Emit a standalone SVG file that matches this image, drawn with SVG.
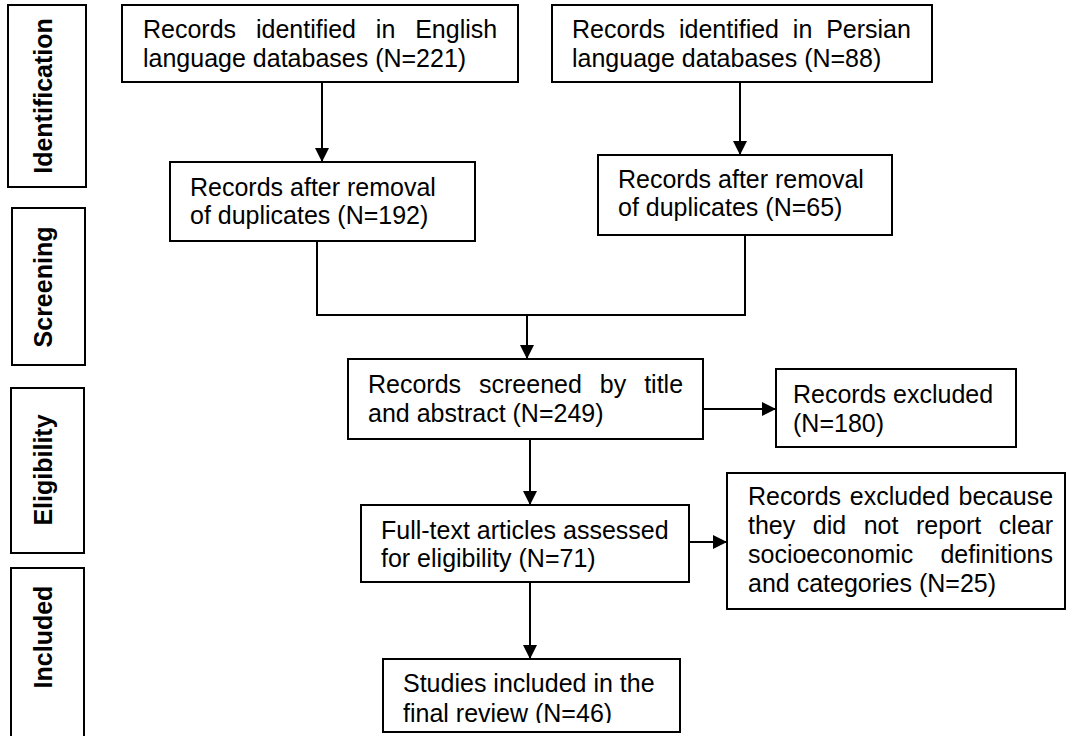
<svg xmlns="http://www.w3.org/2000/svg" width="1067" height="736" viewBox="0 0 1067 736">
<style>
.box{fill:#fff;stroke:#000;stroke-width:2}
.t{font-family:"Liberation Sans",Arial,sans-serif;font-size:25px;fill:#000}
.st{font-family:"Liberation Sans",Arial,sans-serif;font-size:25px;font-weight:bold;fill:#000;text-anchor:middle}
.c{fill:none;stroke:#000;stroke-width:2}
</style>
<defs>
<marker id="ah" markerUnits="userSpaceOnUse" viewBox="0 0 14 14" refX="14" refY="7" markerWidth="14" markerHeight="14" orient="auto">
<path d="M0,0 L14,7 L0,14 z" fill="#000"/>
</marker>
<clipPath id="clipStudies"><rect x="384" y="660" width="295" height="63"/></clipPath>
</defs>
<rect width="1067" height="736" fill="#fff"/>

<g id="stage-identification">
<rect class="box" x="8" y="5" width="78" height="182"/>
<text class="st" transform="translate(52,96) rotate(-90)">Identification</text>
</g>
<g id="stage-screening">
<rect class="box" x="12" y="208" width="73" height="157"/>
<text class="st" transform="translate(52,287) rotate(-90)">Screening</text>
</g>
<g id="stage-eligibility">
<rect class="box" x="11" y="388" width="73" height="165"/>
<text class="st" transform="translate(52,470) rotate(-90)">Eligibility</text>
</g>
<g id="stage-included">
<rect class="box" x="11" y="568" width="73" height="190"/>
<text class="st" transform="translate(52,637) rotate(-90)">Included</text>
</g>

<g id="connectors">
<path class="c" d="M322,82 V162" marker-end="url(#ah)"/>
<path class="c" d="M740,82 V155" marker-end="url(#ah)"/>
<path class="c" d="M317,241 V315 H745 V235"/>
<path class="c" d="M527,315 V359" marker-end="url(#ah)"/>
<path class="c" d="M703,409 H776" marker-end="url(#ah)"/>
<path class="c" d="M530,439 V505" marker-end="url(#ah)"/>
<path class="c" d="M689,542 H727" marker-end="url(#ah)"/>
<path class="c" d="M530,582 V659" marker-end="url(#ah)"/>
</g>

<g id="english">
<rect class="box" x="122" y="5" width="396" height="77"/>
<text class="t"><tspan x="143" y="38" word-spacing="12.9">Records identified in English</tspan><tspan x="143" y="67">language databases (N=221)</tspan></text>
</g>
<g id="persian">
<rect class="box" x="552" y="5" width="380" height="77"/>
<text class="t"><tspan x="572" y="38" word-spacing="6.9">Records identified in Persian</tspan><tspan x="572" y="67">language databases (N=88)</tspan></text>
</g>
<g id="english-dedup">
<rect class="box" x="170" y="162" width="305" height="79"/>
<text class="t"><tspan x="190" y="196">Records after removal</tspan><tspan x="190" y="224">of duplicates (N=192)</tspan></text>
</g>
<g id="persian-dedup">
<rect class="box" x="598" y="155" width="294" height="80"/>
<text class="t"><tspan x="618" y="188">Records after removal</tspan><tspan x="618" y="216">of duplicates (N=65)</tspan></text>
</g>
<g id="screened">
<rect class="box" x="348" y="359" width="355" height="80"/>
<text class="t"><tspan x="368" y="393" word-spacing="11">Records screened by title</tspan><tspan x="368" y="422">and abstract (N=249)</tspan></text>
</g>
<g id="excluded1">
<rect class="box" x="776" y="369" width="240" height="78"/>
<text class="t"><tspan x="793" y="403">Records excluded</tspan><tspan x="793" y="432">(N=180)</tspan></text>
</g>
<g id="fulltext">
<rect class="box" x="361" y="505" width="328" height="77"/>
<text class="t"><tspan x="381" y="539">Full-text articles assessed</tspan><tspan x="381" y="567">for eligibility (N=71)</tspan></text>
</g>
<g id="excluded2">
<rect class="box" x="727" y="473" width="338" height="136"/>
<text class="t"><tspan x="748" y="505" word-spacing="1.75">Records excluded because</tspan><tspan x="748" y="534" word-spacing="10.6">they did not report clear</tspan><tspan x="748" y="563" word-spacing="20.1">socioeconomic definitions</tspan><tspan x="748" y="592">and categories (N=25)</tspan></text>
</g>
<g id="studies">
<rect class="box" x="383" y="659" width="297" height="73"/>
<text class="t" clip-path="url(#clipStudies)"><tspan x="403" y="692">Studies included in the</tspan><tspan x="403" y="722">final review (N=46)</tspan></text>
</g>
</svg>
